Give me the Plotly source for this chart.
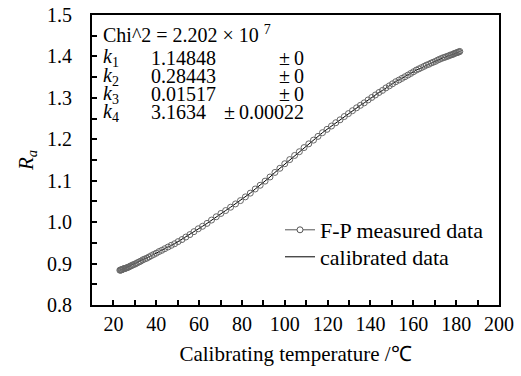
import plotly.graph_objects as go

# Calibrating temperature (°C) of each F-P measured point
temp_c = [
    23.0, 23.3, 23.6, 23.9, 24.2, 24.6, 25.0, 25.4, 25.8, 26.3,
    26.8, 27.3, 27.9, 28.5, 29.1, 29.8, 30.5, 31.2, 32.0, 32.8,
    33.7, 34.6, 35.6, 36.6, 37.7, 38.8, 40.0, 41.3, 42.6, 44.0,
    45.5, 47.0, 48.6, 50.2, 52.0, 53.8, 55.7, 57.6, 59.6, 61.6,
    63.7, 65.8, 68.0, 70.2, 72.4, 74.7, 77.0, 79.3, 81.6, 83.9,
    86.2, 88.5, 90.8, 93.1, 95.4, 97.7, 100.0, 102.3, 104.6, 106.8,
    109.0, 111.2, 113.4, 115.5, 117.6, 119.7, 121.8, 123.8, 125.8, 127.8,
    129.7, 131.6, 133.5, 135.3, 137.1, 138.9, 140.6, 142.3, 144.0, 145.6,
    147.2, 148.8, 150.3, 151.8, 153.3, 154.7, 156.1, 157.5, 158.8, 160.1,
    161.4, 162.6, 163.8, 165.0, 166.1, 167.2, 168.3, 169.3, 170.3, 171.3,
    172.2, 173.1, 174.0, 174.8, 175.6, 176.4, 177.1, 177.8, 178.5, 179.1,
    179.7, 180.3, 180.8, 181.3, 181.7,
]
# R_a measured by the F-P sensor
r_measured = [
    0.884, 0.884, 0.885, 0.885, 0.886, 0.887, 0.888, 0.888, 0.889, 0.890,
    0.891, 0.892, 0.894, 0.895, 0.897, 0.898, 0.900, 0.902, 0.904, 0.906,
    0.909, 0.911, 0.913, 0.916, 0.919, 0.922, 0.925, 0.929, 0.932, 0.936,
    0.940, 0.944, 0.948, 0.953, 0.958, 0.964, 0.970, 0.977, 0.984, 0.990,
    0.997, 1.005, 1.013, 1.021, 1.028, 1.036, 1.044, 1.052, 1.061, 1.070,
    1.080, 1.089, 1.099, 1.109, 1.120, 1.130, 1.141, 1.151, 1.161, 1.170,
    1.180, 1.189, 1.198, 1.207, 1.216, 1.224, 1.232, 1.240, 1.247, 1.255,
    1.262, 1.269, 1.276, 1.282, 1.288, 1.295, 1.301, 1.307, 1.313, 1.318,
    1.324, 1.329, 1.334, 1.339, 1.343, 1.347, 1.351, 1.355, 1.359, 1.363,
    1.367, 1.370, 1.373, 1.376, 1.379, 1.381, 1.384, 1.386, 1.388, 1.391,
    1.393, 1.395, 1.397, 1.398, 1.400, 1.401, 1.403, 1.404, 1.405, 1.407,
    1.408, 1.409, 1.410, 1.411, 1.412,
]
# Calibrated (fitted) curve, drawn through the same temperatures
r_calibrated = list(r_measured)

fit_names = ["1", "2", "3", "4"]
fit_values = ["1.14848", "0.28443", "0.01517", "3.1634"]
fit_errors = ["0", "0", "0", "0.00022"]
chi2_text = "Chi^2 = 2.202 × 10 <sup>7</sup>"

FONT = "Liberation Serif"

fig = go.Figure()
fig.add_trace(go.Scatter(
    x=temp_c, y=r_calibrated, mode="lines", name="calibrated data",
    line=dict(color="black", width=1), showlegend=False,
))
fig.add_trace(go.Scatter(
    x=temp_c, y=r_measured, mode="markers", name="F-P measured data",
    marker=dict(symbol="circle-open", size=6, color="#666666", line=dict(width=1)),
    showlegend=False,
))
fig.add_trace(go.Scatter(
    x=[None], y=[None], mode="lines+markers", name="F-P measured data",
    marker=dict(symbol="circle", size=6, color="white", line=dict(color="#555555", width=1)),
    line=dict(color="#555555", width=1), legend="legend",
))
fig.add_trace(go.Scatter(
    x=[None], y=[None], mode="lines", name="calibrated data",
    line=dict(color="black", width=1), legend="legend2",
))

W, H = 521, 376
L, R, T, B = 92, 22, 15, 71
pw, ph = W - L - R, H - T - B

def px(x):
    return (x - L) / pw

def py(y):
    return (H - B - y) / ph

AFONT = dict(size=20, family=FONT)
ann = []
ann.append(dict(x=px(101), y=py(34), text=chi2_text, xanchor="left", yanchor="middle",
                showarrow=False, xref="paper", yref="paper", font=AFONT))
row_y = [58, 76, 94, 112]
for name, val, err, yy in zip(fit_names, fit_values, fit_errors, row_y):
    ann.append(dict(x=px(101), y=py(yy), text="<i>k</i><sub>" + name + "</sub>",
                    xanchor="left", yanchor="middle", showarrow=False,
                    xref="paper", yref="paper", font=AFONT))
    ann.append(dict(x=px(149), y=py(yy), text=val, xanchor="left", yanchor="middle",
                    showarrow=False, xref="paper", yref="paper", font=AFONT))
    ann.append(dict(x=px(306), y=py(yy), text="±\u2009" + err,
                    xanchor="right", yanchor="middle", showarrow=False,
                    xref="paper", yref="paper", font=AFONT))

LEG = dict(bgcolor="rgba(0,0,0,0)", font=dict(size=22, family=FONT),
           xanchor="left", yanchor="middle")

fig.update_layout(
    width=W, height=H,
    margin=dict(l=L, r=R, t=T, b=B, autoexpand=False),
    paper_bgcolor="white", plot_bgcolor="white",
    font=dict(family=FONT, size=20, color="black"),
    showlegend=True,
    legend=dict(x=px(280), y=py(230), **LEG),
    legend2=dict(x=px(280), y=py(257), **LEG),
    annotations=ann,
    xaxis=dict(
        range=[10, 200], tick0=0, dtick=20, showgrid=False, zeroline=False,
        showline=True, linecolor="black", linewidth=2, mirror=True,
        ticks="inside", ticklen=5, tickwidth=1.5, tickcolor="black",
        minor=dict(dtick=10, ticks="inside", ticklen=5, tickwidth=1.5, tickcolor="black"),
        ticklabelstandoff=0, tickfont=dict(family=FONT, size=20),
        title=dict(text="Calibrating temperature /℃", standoff=12, font=dict(size=21, family=FONT)),
        automargin=False,
    ),
    yaxis=dict(
        range=[0.8, 1.5], dtick=0.1, tickformat=".1f", showgrid=False, zeroline=False,
        showline=True, linecolor="black", linewidth=2, mirror=True,
        ticks="inside", ticklen=5, tickwidth=1.5, tickcolor="black",
        minor=dict(dtick=0.05, ticks="inside", ticklen=5, tickwidth=1.5, tickcolor="black"),
        ticklabelstandoff=14, tickfont=dict(family=FONT, size=20),
        title=dict(text="<i>R<sub>a</sub></i>", standoff=8, font=dict(size=21, family=FONT)),
        automargin=False,
    ),
)

fig.write_html("out.html")
